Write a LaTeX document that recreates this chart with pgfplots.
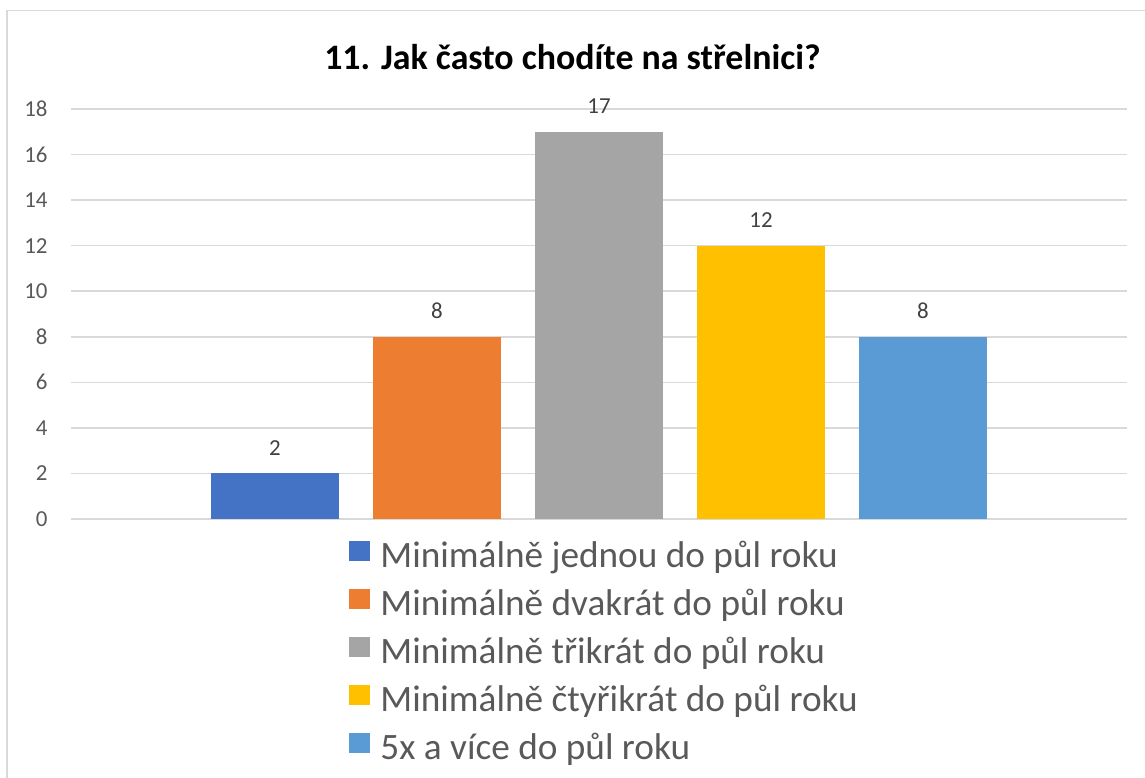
\documentclass[border=0pt]{standalone}
\usepackage{fontspec}
\setmainfont{Carlito}
\usepackage{pgfplots}
\pgfplotsset{compat=1.18}
\definecolor{serA}{HTML}{4472C4}
\definecolor{serB}{HTML}{ED7D31}
\definecolor{serC}{HTML}{A5A5A5}
\definecolor{serD}{HTML}{FFC000}
\definecolor{serE}{HTML}{5B9BD5}
\definecolor{gridc}{HTML}{D9D9D9}
\definecolor{tickc}{HTML}{595959}
\definecolor{labc}{HTML}{404040}
\begin{document}
\begin{tikzpicture}
\useasboundingbox (0,0) rectangle (572.5bp,389bp);
% ramecek grafu
\draw[gridc, line width=0.75bp] (3.5bp,0) -- (3.5bp,383.75bp) -- (572.5bp,383.75bp);
% titulek
\node[font=\bfseries\fontsize{18}{22}\selectfont, inner sep=0pt] at (286.25bp,360.5bp) {11. Jak často chodíte na střelnici?};
\begin{axis}[
    at={(35.5bp,129.5bp)}, anchor=south west,
    scale only axis,
    width=528bp, height=205bp,
    ybar,
    bar width=0.79,
    xmin=-0.259, xmax=6.259,
    ymin=0, ymax=18,
    ytick={0,2,...,18},
    xtick=\empty,
    major tick length=0pt,
    axis line style={draw=none},
    ymajorgrids,
    grid style={draw=gridc, line width=0.75bp},
    /pgf/number format/assume math mode=true,
    yticklabel style={font=\fontsize{11.5}{13}\selectfont, text=tickc, inner sep=0pt, xshift=-11.5bp},
    nodes near coords,
    every node near coord/.append style={font=\fontsize{11.5}{13}\selectfont, text=labc, anchor=base, inner sep=0pt, yshift=9bp},
    legend image code/.code={\fill[#1] (0bp,-0.5bp) rectangle (10.5bp,9.5bp);},
    legend cell align=left,
    legend style={at={(0.2633,-0.0525)}, anchor=north west, draw=none, fill=none,
        font=\fontsize{18.7}{22}\selectfont, text=tickc, inner sep=0pt,
        nodes={inner sep=0pt, text height=12bp, text depth=4bp},
        row sep=6.5bp, column sep=5bp},
]
\addplot[fill=serA, draw=none, bar shift=0pt] coordinates {(1,2)};
\addlegendentry{Minimálně jednou do půl roku}
\addplot[fill=serB, draw=none, bar shift=0pt] coordinates {(2,8)};
\addlegendentry{Minimálně dvakrát do půl roku}
\addplot[fill=serC, draw=none, bar shift=0pt] coordinates {(3,17)};
\addlegendentry{Minimálně třikrát do půl roku}
\addplot[fill=serD, draw=none, bar shift=0pt] coordinates {(4,12)};
\addlegendentry{Minimálně čtyřikrát do půl roku}
\addplot[fill=serE, draw=none, bar shift=0pt] coordinates {(5,8)};
\addlegendentry{5x a více do půl roku}
\end{axis}
\end{tikzpicture}
\end{document}
